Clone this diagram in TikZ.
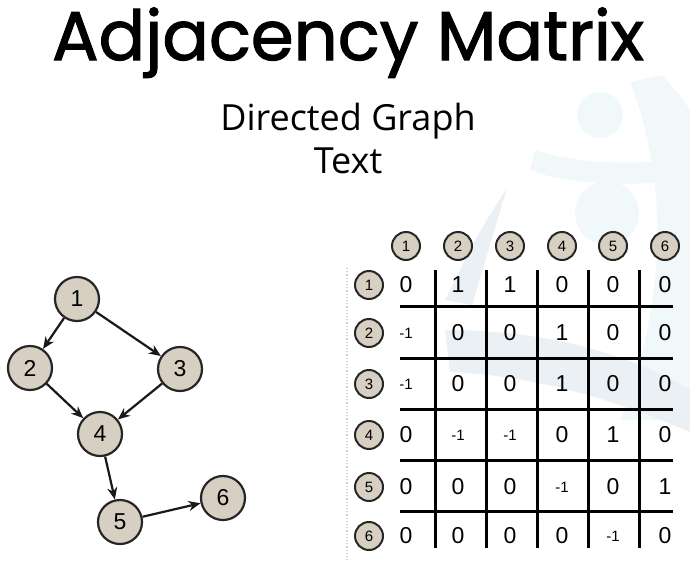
\documentclass[tikz,border=0pt]{standalone}
\usepackage{fontspec}
\setmainfont{Liberation Sans}
\newfontfamily\titulofont[FakeBold=1.6]{Poppins}
\newfontfamily\subfont{Open Sans}
\usepackage{tikz}
\usetikzlibrary{arrows.meta, positioning, calc}
\definecolor{Beige}{RGB}{214,207,194}
\definecolor{Marca}{RGB}{240,248,250}
\definecolor{MarcaGris}{RGB}{235,240,244}

\begin{document}
\begin{tikzpicture}[
  x=1pt, y=-1pt,
  vertice/.style={
    circle, draw=black!85, line width=2.2pt,
    fill=Beige, minimum size=44pt, inner sep=0pt,
    font=\fontsize{23}{23}\selectfont
  },
  cabecera/.style={
    circle, draw=black!85, line width=2pt,
    fill=Beige, minimum size=28pt, inner sep=0pt,
    font=\fontsize{15}{15}\selectfont
  },
  valor/.style={font=\fontsize{23}{23}\selectfont, inner sep=0pt},
  arista/.style={-{Stealth[length=12pt, width=10pt]}, line width=2.2pt, black!90},
  rejilla/.style={line width=3pt, black}
]
  \useasboundingbox (0,0) rectangle (690,562);

  % --- Marca de agua ---
  \fill[Marca] (600,115) circle (23);
  \fill[Marca] (607,213) circle (32);
  \fill[Marca] (630,82) .. controls (668,180) and (668,300) .. (620,420)
    -- (690,420) -- (690,110) .. controls (680,95) .. (662,75) -- cycle;
  \fill[Marca] (535,150) .. controls (580,165) and (640,165) .. (690,158)
    -- (690,180) .. controls (640,186) and (570,186) .. (530,170) -- cycle;
  \fill[MarcaGris] (507,188) .. controls (480,230) .. (445,300) -- (472,305) -- cycle;
  \fill[MarcaGris] (445,330) .. controls (560,330) and (640,360) .. (690,390)
    -- (690,432) .. controls (620,402) and (540,376) .. (450,372) -- cycle;

  % --- Titulos ---
  \node[anchor=base, font=\titulofont\fontsize{69}{69}\selectfont] (titulo) at (348,60) {Adjacency Matrix};
  \node[anchor=base, font=\subfont\fontsize{36}{36}\selectfont] (sub) at (348,130) {Directed Graph};
  \node[anchor=base, font=\subfont\fontsize{36}{36}\selectfont] (texto) at (348,173) {Text};

  % --- Grafo dirigido ---
  \node[vertice] (n1) at (77,299)  {1};
  \node[vertice] (n2) at (30,368)  {2};
  \node[vertice] (n3) at (180,369) {3};
  \node[vertice] (n4) at (100,434) {4};
  \node[vertice] (n5) at (120,522) {5};
  \node[vertice] (n6) at (223,498) {6};

  \draw[arista] (n1) -- (n2);
  \draw[arista] (n1) -- (n3);
  \draw[arista] (n2) -- (n4);
  \draw[arista] (n3) -- (n4);
  \draw[arista] (n4) -- (n5);
  \draw[arista] (n5) -- (n6);

  % --- Matriz ---
  \draw[gray!35, dotted, line width=1.2pt] (347,268) -- (347,560);

  \foreach \x [count=\j] in {406,458,510,562,613,665}
    \node[cabecera] (c\j) at (\x,246) {\j};
  \foreach \y [count=\i] in {285,333,384,435,487,536}
    \node[cabecera] (f\i) at (369,\y) {\i};

  \foreach \y in {306,358,409,460,511}
    \draw[rejilla] (400,\y) -- (673,\y);
  \foreach \x in {435,486,537,588,639}
    \draw[rejilla] (\x,270) -- (\x,548);

  \foreach \fila [count=\i] in {{0,1,1,0,0,0},{-1,0,0,1,0,0},{-1,0,0,1,0,0},
                               {0,-1,-1,0,1,0},{0,0,0,-1,0,1},{0,0,0,0,-1,0}}
    \foreach \v [count=\j] in \fila
      \node[valor] (v\i\j) at (c\j |- f\i)
        {\ifnum\v<0 \fontsize{15}{15}\selectfont\v\else\v\fi};
\end{tikzpicture}
\end{document}
